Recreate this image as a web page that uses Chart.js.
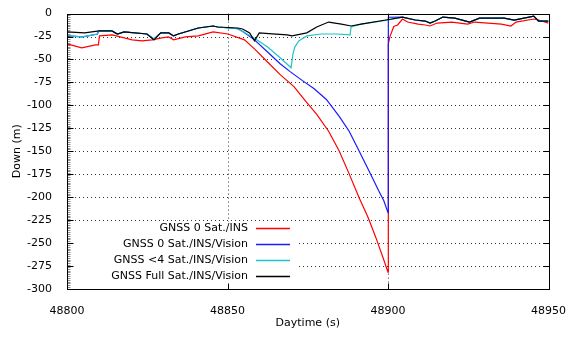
<!DOCTYPE html>
<html>
<head>
<meta charset="utf-8">
<script src="https://cdn.jsdelivr.net/npm/chart.js@4.4.1/dist/chart.umd.min.js"></script>
<style>
  html, body { margin: 0; background: #fff; }
  #wrap { width: 574px; height: 339px; }
</style>
</head>
<body>
<div id="wrap"><canvas id="downPlot"></canvas></div>
<script>
// Down position (m) against time of day (s), four processing modes
var tRed = [48800, 48804.6, 48808.9, 48809.8, 48810.1, 48814.1, 48820.3, 48823.4, 48826.5, 48829.5, 48831.7, 48833.2, 48836.9, 48840.9,
  48845.5, 48850.1, 48855.3, 48858.4, 48862.4, 48866.4, 48870.7, 48874.4, 48877.8, 48881.5, 48884.8, 48887.9, 48891, 48893.8,
  48896.2, 48898.4, 48900, 48900.1, 48900.6, 48901.8, 48903, 48904.5, 48906.1, 48909.4, 48911.6, 48913.1, 48915.3, 48919.9,
  48924.8, 48927, 48935.3, 48938.3, 48939.9, 48945.4, 48946.9, 48950];
var vRed = [-33, -37.3, -34.1, -34.1, -24.3, -23.2, -28.6, -29.7, -28.6, -26.5, -25.4, -28.6, -25.4, -24.3,
  -20, -22.2, -28.6, -38.4, -52.4, -66.5, -79.5, -95.7, -109.7, -128.1, -149.7, -174.6, -200.5, -222.2,
  -243.8, -265.4, -281.6, -33, -25, -14, -12.4, -5.9, -9.2, -11.4, -12.4, -13.5, -10.3, -9.2,
  -11.4, -9.2, -11.4, -13.5, -9.2, -5.9, -7, -10.3];

var tBlue = [48800, 48804.9, 48809.5, 48809.8, 48814, 48815.7, 48817.8, 48824.9, 48827.1, 48829.2, 48831.7, 48833.2, 48834.7,
  48840.9, 48845.5, 48847, 48853.2, 48855, 48858.4, 48862.4, 48866.4, 48869.5, 48873.8, 48876.9, 48880.8, 48884.8,
  48887.9, 48891, 48894.1, 48897.1, 48898.7, 48900, 48900.1, 48904.5, 48908.5, 48911.6, 48913.1, 48914.7, 48917.1,
  48920.8, 48925.4, 48928.5, 48936.2, 48939.3, 48945.4, 48946.9, 48950];
var vBlue = [-24.3, -25.4, -22.2, -19, -18.9, -22.2, -20, -22.2, -27.6, -21, -21, -24.3, -22.2,
  -15.7, -13.5, -14.6, -16.5, -20, -28.6, -41.6, -54.6, -63.2, -74.1, -81.6, -93.5, -111.9,
  -128.1, -149.7, -171.4, -193, -203.8, -216.8, -4, -3.8, -7, -8.1, -10.3, -8.1, -3.8,
  -4.9, -9.2, -4.9, -4.9, -7, -2.7, -8.1, -8.1];

var tCyan = [48800, 48804.9, 48809.5, 48809.8, 48814, 48815.7, 48817.8, 48824.9, 48827.1, 48829.2, 48831.7, 48833.2, 48834.7,
  48840.9, 48845.5, 48847, 48853.2, 48855, 48858, 48862.4, 48866.4, 48869.8, 48870.4, 48871, 48872.2, 48874.7, 48879.3,
  48883.9, 48888.2, 48888.5, 48891.6, 48899.3, 48904.5, 48908.5, 48911.6, 48913.1, 48914.7, 48917.1, 48920.8, 48925.4,
  48928.5, 48936.2, 48939.3, 48945.4, 48946.9, 48950];
var vCyan = [-24.3, -25.4, -22.2, -19, -18.9, -22.2, -20, -22.2, -27.6, -21, -21, -24.3, -22.2,
  -15.7, -13.5, -14.6, -16.5, -20, -26, -36.2, -48.1, -58.9, -43.8, -36.2, -29.7, -24.3, -22.2,
  -22.2, -23.2, -14.6, -11.4, -7.5, -4, -7, -8.1, -10.3, -8.1, -3.8, -4.9, -9.2,
  -4.9, -4.9, -7, -2.7, -8.1, -8.1];

var tBlack = [48800, 48805.5, 48810, 48814, 48815.7, 48817.8, 48824.9, 48827.1, 48829.2, 48831.7, 48833.2, 48834.7, 48840.9,
  48845.5, 48847, 48853.2, 48854.7, 48856.9, 48858.4, 48859.9, 48863.9, 48868.6, 48870.1, 48874.7, 48877.8, 48881.5,
  48885.5, 48888.5, 48891.6, 48899.3, 48904.5, 48908.5, 48911.6, 48913.1, 48914.7, 48917.1, 48920.8, 48925.4, 48928.5,
  48936.2, 48939.3, 48945.4, 48946.9, 48950];
var vBlack = [-20, -21, -18.9, -18.9, -22.2, -20, -22.2, -28.6, -21, -21, -24.3, -22.2, -15.7,
  -13.5, -14.6, -15.7, -16.8, -21, -29.7, -21, -22, -23.2, -24.3, -21, -14.6, -9.2,
  -11.4, -13.5, -11.4, -7, -3.8, -7, -8.1, -10.3, -8.1, -3.8, -4.9, -9.2, -4.9,
  -4.9, -7, -2.7, -8.1, -8.1];

var seriesNames = ['GNSS 0 Sat./INS', 'GNSS 0 Sat./INS/Vision', 'GNSS <4 Sat./INS/Vision', 'GNSS Full Sat./INS/Vision'];
var seriesColors = ['#ff0000', '#1a1aff', '#20c4cc', '#000000'];

var FONT = '11px "DejaVu Sans"';

function pts(ts, vs) {
  return ts.map(function (t, i) { return { x: t, y: vs[i] }; });
}

// gnuplot-like frame: dotted grid, inward ticks, key with an opaque box
var gnuFrame = {
  id: 'gnuFrame',
  beforeDatasetsDraw: function (chart) {
    var ctx = chart.ctx, a = chart.chartArea, xs = chart.scales.x, ys = chart.scales.y;
    ctx.save();
    ctx.strokeStyle = '#333';
    ctx.lineWidth = 1;
    ctx.setLineDash([1, 3]);
    ys.ticks.forEach(function (tk) {
      if (tk.value <= ys.min || tk.value >= ys.max) return;
      var py = Math.round(ys.getPixelForValue(tk.value)) + 0.5;
      ctx.beginPath(); ctx.moveTo(a.left, py); ctx.lineTo(a.right, py); ctx.stroke();
    });
    xs.ticks.forEach(function (tk) {
      if (tk.value <= xs.min || tk.value >= xs.max) return;
      var px = Math.round(xs.getPixelForValue(tk.value)) + 0.5;
      ctx.beginPath(); ctx.moveTo(px, a.top); ctx.lineTo(px, a.bottom); ctx.stroke();
    });
    ctx.setLineDash([]);

    // key
    ctx.fillStyle = '#fff';
    ctx.fillRect(a.left + 1, 222, 296 - a.left, a.bottom - 223);
    ctx.font = FONT;
    ctx.textAlign = 'right';
    ctx.textBaseline = 'middle';
    chart.data.datasets.forEach(function (ds, i) {
      var ry = 228 + i * 16;
      ctx.fillStyle = '#000';
      ctx.fillText(ds.label, 248, ry + 0.5);
      ctx.strokeStyle = ds.borderColor;
      ctx.lineWidth = 1.3;
      ctx.beginPath(); ctx.moveTo(256, ry + 0.5); ctx.lineTo(290, ry + 0.5); ctx.stroke();
    });
    ctx.restore();
  },
  afterDatasetsDraw: function (chart) {
    var ctx = chart.ctx, a = chart.chartArea, xs = chart.scales.x, ys = chart.scales.y;
    var L = Math.round(a.left) + 0.5, R = Math.round(a.right) + 0.5;
    var T = Math.round(a.top) + 0.5, B = Math.round(a.bottom) + 0.5;
    ctx.save();
    ctx.strokeStyle = '#000';
    ctx.lineWidth = 1;
    ctx.strokeRect(L, T, R - L, B - T);
    ctx.beginPath();
    ys.ticks.forEach(function (tk) {
      var py = Math.round(ys.getPixelForValue(tk.value)) + 0.5;
      ctx.moveTo(L, py); ctx.lineTo(L + 6, py);
      ctx.moveTo(R, py); ctx.lineTo(R - 6, py);
    });
    xs.ticks.forEach(function (tk) {
      var px = Math.round(xs.getPixelForValue(tk.value)) + 0.5;
      ctx.moveTo(px, B); ctx.lineTo(px, B - 6);
      ctx.moveTo(px, T); ctx.lineTo(px, T + 6);
    });
    ctx.stroke();
    // minor ticks on the left axis
    ctx.strokeStyle = 'rgba(0,0,0,0.45)';
    ctx.beginPath();
    for (var v = ys.min; v <= ys.max; v += 2) {
      var my = Math.round(ys.getPixelForValue(v)) + 0.5;
      ctx.moveTo(L, my); ctx.lineTo(L + 3, my);
    }
    ctx.stroke();
    ctx.restore();
  }
};

var datasets = [
  { data: pts(tRed, vRed), order: 3 },
  { data: pts(tBlue, vBlue), order: 2 },
  { data: pts(tCyan, vCyan), order: 1 },
  { data: pts(tBlack, vBlack), order: 0 }
].map(function (ds, i) {
  ds.label = seriesNames[i];
  ds.borderColor = seriesColors[i];
  ds.backgroundColor = seriesColors[i];
  ds.borderWidth = 1.2;
  ds.pointRadius = 0;
  ds.tension = 0;
  ds.fill = false;
  return ds;
});

var chart = new Chart(document.getElementById('downPlot').getContext('2d'), {
  type: 'line',
  data: { datasets: datasets },
  options: {
    responsive: true,
    maintainAspectRatio: false,
    animation: false,
    devicePixelRatio: 1,
    layout: { padding: { top: 11, right: 19, left: 0, bottom: 0 } },
    plugins: { legend: { display: false }, tooltip: { enabled: false } },
    scales: {
      x: {
        type: 'linear',
        min: 48800, max: 48950,
        grid: { display: false },
        border: { display: false },
        ticks: {
          stepSize: 50, padding: 8, color: '#000', font: { family: 'DejaVu Sans', size: 11 }, maxRotation: 0,
          callback: function (v) { return String(v); }
        },
        title: { display: true, text: 'Daytime (s)', color: '#000', font: { family: 'DejaVu Sans', size: 11 }, padding: { top: 0, bottom: 9 } },
        afterFit: function (s) { s.height = 50; }
      },
      y: {
        min: -300, max: 0,
        grid: { display: false },
        border: { display: false },
        ticks: { stepSize: 25, padding: 7, color: '#000', font: { family: 'DejaVu Sans', size: 11 } },
        title: { display: true, text: 'Down (m)', color: '#000', font: { family: 'DejaVu Sans', size: 11 }, padding: { top: 11, bottom: 0 } },
        afterFit: function (s) { s.width = 67; }
      }
    }
  },
  plugins: [gnuFrame]
});
</script>
</body>
</html>
